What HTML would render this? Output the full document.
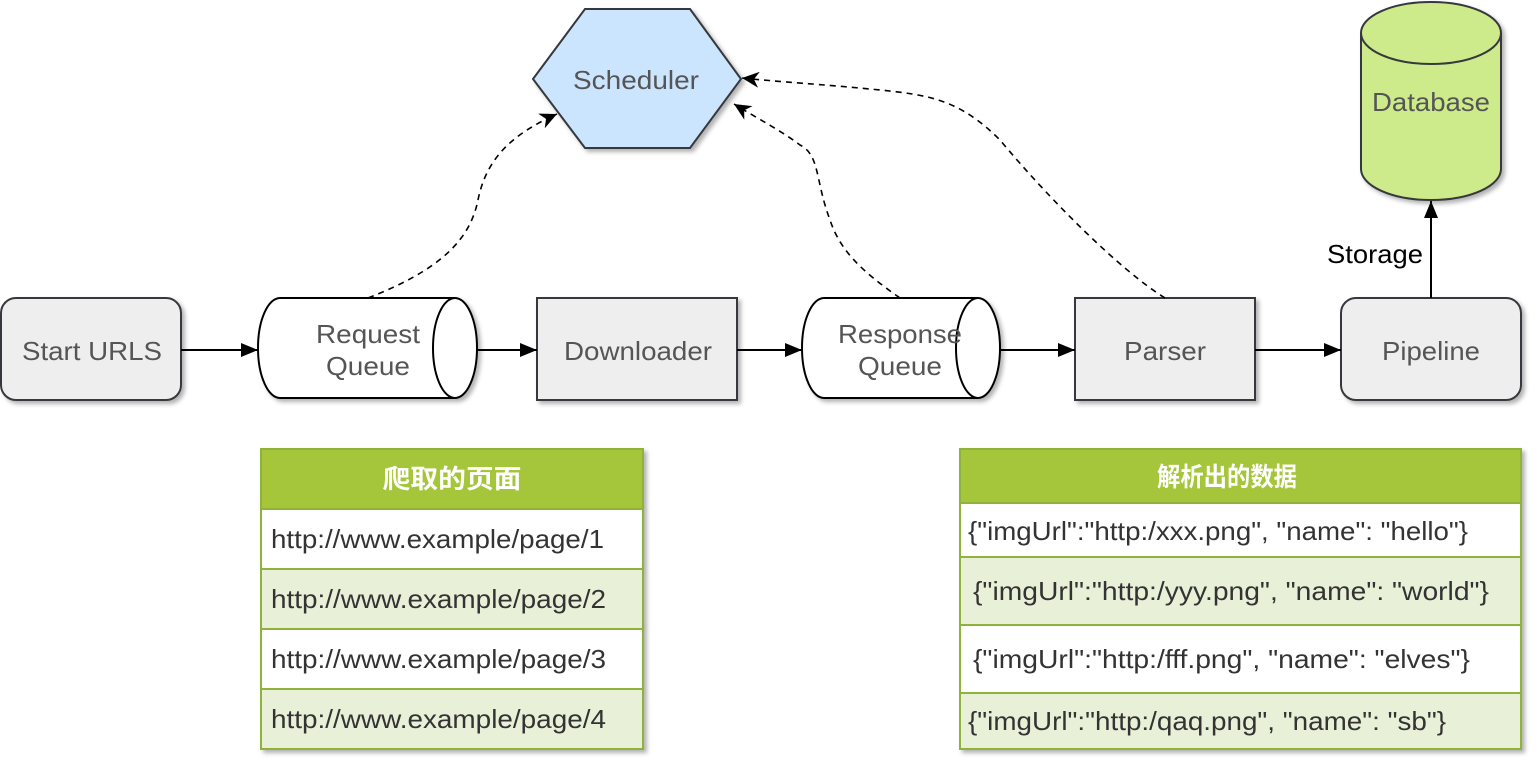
<!DOCTYPE html>
<html><head><meta charset="utf-8"><style>
html,body{margin:0;padding:0;background:#fff;}
svg text{font-family:"Liberation Sans","Noto Sans CJK SC",sans-serif;}
</style></head><body>
<svg width="1538" height="768" viewBox="0 0 1538 768" xmlns="http://www.w3.org/2000/svg">
<defs>
<filter id="sh" x="-10%" y="-10%" width="130%" height="130%"><feDropShadow dx="3" dy="3" stdDeviation="2" flood-color="#000" flood-opacity="0.3"/></filter>
<marker id="ar" markerWidth="18" markerHeight="16" refX="17" refY="8" orient="auto" markerUnits="userSpaceOnUse"><path d="M0,1 L17,8 L0,15 Z" fill="#000"/></marker>
<marker id="ar2" markerWidth="18" markerHeight="16" refX="17" refY="8" orient="auto" markerUnits="userSpaceOnUse"><path d="M0,0 L17,8 L0,16 L5,8 Z" fill="#000"/></marker>
</defs>
<g filter="url(#sh)" stroke="#36393d" stroke-width="2">
<rect x="1" y="298" width="180" height="102" rx="15" fill="#eeeeee"/>
<rect x="537" y="298" width="200" height="102" fill="#eeeeee"/>
<rect x="1075" y="298" width="180" height="102" fill="#eeeeee"/>
<rect x="1341" y="298" width="180" height="102" rx="15" fill="#eeeeee"/>
<polygon points="533,79 585,9 690,9 741,79 690,148 585,148" fill="#cce5ff"/>
<path d="M1361,33 A70,31 0 0 1 1501,33 L1501,169 A70,31 0 0 1 1361,169 Z" fill="#cdeb8b"/>
</g>
<path d="M1361,33 A70,31 0 0 0 1501,33" fill="none" stroke="#36393d" stroke-width="2"/>
<g filter="url(#sh)" stroke="#000" stroke-width="2" fill="#fff">
<path d="M280,298 L455,298 A22,50 0 0 1 455,398 L280,398 A22,50 0 0 1 280,298 Z"/>
<path d="M824,298 L978,298 A22,50 0 0 1 978,398 L824,398 A22,50 0 0 1 824,298 Z"/>
</g>
<path d="M455,298 A22,50 0 0 0 455,398" fill="none" stroke="#000" stroke-width="2"/>
<path d="M978,298 A22,50 0 0 0 978,398" fill="none" stroke="#000" stroke-width="2"/>
<g fill="#555" font-size="26" text-anchor="middle">
<text x="92" y="360" textLength="140" lengthAdjust="spacingAndGlyphs">Start URLS</text>
<text x="368" y="343" textLength="104" lengthAdjust="spacingAndGlyphs">Request</text><text x="368" y="375" textLength="84" lengthAdjust="spacingAndGlyphs">Queue</text>
<text x="638" y="360" textLength="148" lengthAdjust="spacingAndGlyphs">Downloader</text>
<text x="900" y="343" textLength="124" lengthAdjust="spacingAndGlyphs">Response</text><text x="900" y="375" textLength="84" lengthAdjust="spacingAndGlyphs">Queue</text>
<text x="1165" y="360" textLength="82" lengthAdjust="spacingAndGlyphs">Parser</text>
<text x="1431" y="360" textLength="98" lengthAdjust="spacingAndGlyphs">Pipeline</text>
<text x="636" y="89" textLength="126" lengthAdjust="spacingAndGlyphs">Scheduler</text>
<text x="1431" y="111" textLength="118" lengthAdjust="spacingAndGlyphs">Database</text>
</g>
<g stroke="#000" stroke-width="2" fill="none" marker-end="url(#ar)">
<line x1="181" y1="350" x2="258" y2="350"/>
<line x1="477" y1="350" x2="537" y2="350"/>
<line x1="737" y1="350" x2="802" y2="350"/>
<line x1="1000" y1="350" x2="1075" y2="350"/>
<line x1="1255" y1="350" x2="1341" y2="350"/>
<line x1="1431" y1="298" x2="1431" y2="201"/>
</g>
<text x="1375" y="263" font-size="26" text-anchor="middle" fill="#000" textLength="96" lengthAdjust="spacingAndGlyphs">Storage</text>
<g stroke="#000" stroke-width="1.6" fill="none" stroke-dasharray="6,5" marker-end="url(#ar2)">
<path d="M368,298 C440,270 470,240 478,200 C486,160 510,135 557,114"/>
<path d="M900,298 C860,270 840,250 830,220 C815,180 820,155 800,145 C780,130 760,120 734,104"/>
<path d="M1165,298 C1120,270 1050,200 1000,140 C960,100 930,95 880,90 C820,84 780,82 742,78"/>
</g>
<!-- left table -->
<g filter="url(#sh)">
<rect x="261" y="449" width="382" height="300" fill="#fff" stroke="#8fb23a" stroke-width="2"/>
</g>
<rect x="261" y="449" width="382" height="60" fill="#a5c63b" stroke="#8fb23a" stroke-width="2"/>
<rect x="261" y="509" width="382" height="60" fill="#fff" stroke="#8fb23a" stroke-width="2"/>
<rect x="261" y="569" width="382" height="60" fill="#e9f0d8" stroke="#8fb23a" stroke-width="2"/>
<rect x="261" y="629" width="382" height="60" fill="#fff" stroke="#8fb23a" stroke-width="2"/>
<rect x="261" y="689" width="382" height="60" fill="#e9f0d8" stroke="#8fb23a" stroke-width="2"/>
<text x="452" y="488" font-size="26" font-weight="bold" fill="#fff" text-anchor="middle" textLength="139" lengthAdjust="spacingAndGlyphs">爬取的页面</text>
<g font-size="26" fill="#333">
<text x="271" y="548" textLength="333" lengthAdjust="spacingAndGlyphs">http://www.example/page/1</text>
<text x="271" y="608" textLength="335" lengthAdjust="spacingAndGlyphs">http://www.example/page/2</text>
<text x="271" y="668" textLength="335" lengthAdjust="spacingAndGlyphs">http://www.example/page/3</text>
<text x="271" y="728" textLength="335" lengthAdjust="spacingAndGlyphs">http://www.example/page/4</text>
</g>
<!-- right table -->
<g filter="url(#sh)">
<rect x="960" y="449" width="561" height="300" fill="#fff" stroke="#8fb23a" stroke-width="2"/>
</g>
<rect x="960" y="449" width="561" height="54" fill="#a5c63b" stroke="#8fb23a" stroke-width="2"/>
<rect x="960" y="503" width="561" height="54" fill="#fff" stroke="#8fb23a" stroke-width="2"/>
<rect x="960" y="557" width="561" height="68" fill="#e9f0d8" stroke="#8fb23a" stroke-width="2"/>
<rect x="960" y="625" width="561" height="68" fill="#fff" stroke="#8fb23a" stroke-width="2"/>
<rect x="960" y="693" width="561" height="56" fill="#e9f0d8" stroke="#8fb23a" stroke-width="2"/>
<text x="1227" y="486" font-size="26" font-weight="bold" fill="#fff" text-anchor="middle" textLength="140" lengthAdjust="spacingAndGlyphs">解析出的数据</text>
<g font-size="26" fill="#333">
<text x="968" y="540" textLength="500" lengthAdjust="spacingAndGlyphs">{"imgUrl":"http:/xxx.png", "name": "hello"}</text>
<text x="973" y="600" textLength="516" lengthAdjust="spacingAndGlyphs">{"imgUrl":"http:/yyy.png", "name": "world"}</text>
<text x="973" y="668" textLength="497" lengthAdjust="spacingAndGlyphs">{"imgUrl":"http:/fff.png", "name": "elves"}</text>
<text x="968" y="730" textLength="478" lengthAdjust="spacingAndGlyphs">{"imgUrl":"http:/qaq.png", "name": "sb"}</text>
</g>
</svg>
</body></html>
